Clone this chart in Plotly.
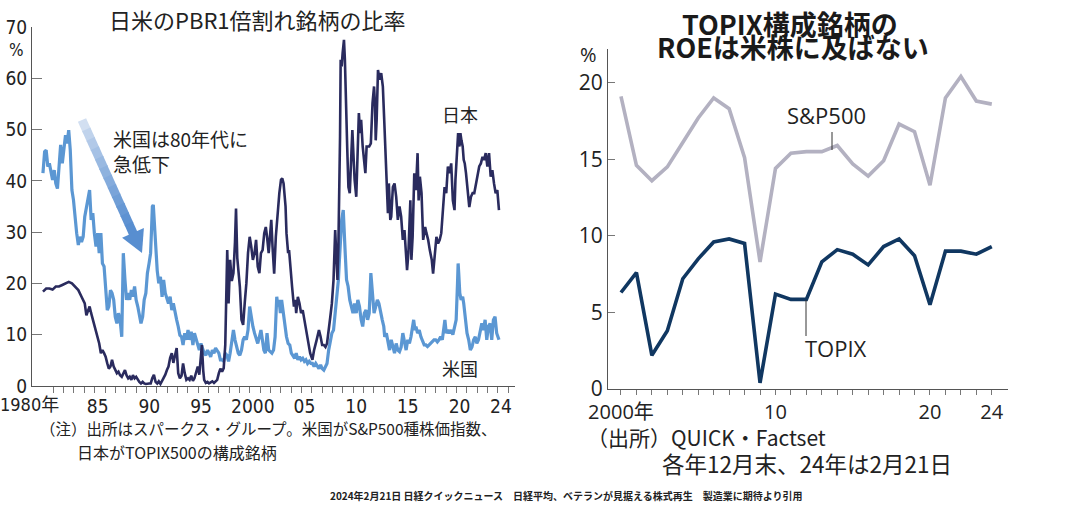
import plotly.graph_objects as go

# ---------------- Left chart: share of stocks with PBR < 1 (%) ----------------
us_years = [
    1980.00, 1980.16, 1980.31, 1980.47, 1980.62, 1980.78, 1980.93, 1981.09, 1981.24, 1981.40,
    1981.55, 1981.71, 1981.87, 1982.02, 1982.18, 1982.33, 1982.49, 1982.64, 1982.80, 1982.95,
    1983.11, 1983.26, 1983.42, 1983.57, 1983.73, 1983.89, 1984.04, 1984.20, 1984.35, 1984.51,
    1984.66, 1984.82, 1984.97, 1985.13, 1985.28, 1985.44, 1985.60, 1985.75, 1985.91, 1986.06,
    1986.22, 1986.37, 1986.53, 1986.68, 1986.84, 1986.99, 1987.15, 1987.30, 1987.46, 1987.62,
    1987.77, 1987.93, 1988.08, 1988.24, 1988.39, 1988.55, 1988.70, 1988.86, 1989.01, 1989.17,
    1989.32, 1989.48, 1989.64, 1989.79, 1989.95, 1990.10, 1990.26, 1990.41, 1990.50, 1990.58,
    1990.67, 1990.79, 1990.89, 1991.05, 1991.20, 1991.36, 1991.52, 1991.67, 1991.83, 1991.99,
    1992.14, 1992.30, 1992.46, 1992.61, 1992.77, 1992.93, 1993.08, 1993.24, 1993.40, 1993.55,
    1993.71, 1993.87, 1994.03, 1994.18, 1994.34, 1994.50, 1994.65, 1994.81, 1994.97, 1995.12,
    1995.28, 1995.44, 1995.59, 1995.75, 1995.91, 1996.06, 1996.22, 1996.38, 1996.54, 1996.69,
    1996.85, 1997.01, 1997.16, 1997.32, 1997.48, 1997.63, 1997.79, 1997.95, 1998.10, 1998.26,
    1998.42, 1998.57, 1998.73, 1998.89, 1999.04, 1999.20, 1999.36, 1999.51, 1999.67, 1999.83,
    1999.99, 2000.14, 2000.30, 2000.46, 2000.61, 2000.77, 2000.93, 2001.08, 2001.22, 2001.36,
    2001.51, 2001.67, 2001.83, 2001.98, 2002.14, 2002.30, 2002.45, 2002.61, 2002.71, 2002.83,
    2002.96, 2003.08, 2003.24, 2003.40, 2003.55, 2003.71, 2003.87, 2004.02, 2004.18, 2004.34,
    2004.49, 2004.65, 2004.81, 2004.96, 2005.12, 2005.28, 2005.43, 2005.59, 2005.75, 2005.91,
    2006.06, 2006.22, 2006.38, 2006.53, 2006.69, 2006.85, 2007.00, 2007.16, 2007.32, 2007.47,
    2007.63, 2007.79, 2007.94, 2008.10, 2008.26, 2008.42, 2008.57, 2008.67, 2008.79, 2008.89,
    2009.04, 2009.14, 2009.23, 2009.36, 2009.51, 2009.67, 2009.83, 2009.98, 2010.14, 2010.30,
    2010.45, 2010.61, 2010.77, 2010.92, 2011.08, 2011.24, 2011.40, 2011.55, 2011.71, 2011.80,
    2011.92, 2012.02, 2012.18, 2012.34, 2012.49, 2012.65, 2012.81, 2012.96, 2013.05, 2013.21,
    2013.36, 2013.52, 2013.68, 2013.84, 2014.00, 2014.16, 2014.32, 2014.48, 2014.64, 2014.80,
    2014.96, 2015.12, 2015.28, 2015.44, 2015.59, 2015.75, 2015.85, 2015.98, 2016.07, 2016.23,
    2016.39, 2016.55, 2016.71, 2016.87, 2017.03, 2017.19, 2017.35, 2017.51, 2017.66, 2017.82,
    2017.98, 2018.14, 2018.30, 2018.46, 2018.62, 2018.78, 2018.87, 2019.00, 2019.16, 2019.32,
    2019.48, 2019.64, 2019.80, 2019.96, 2020.09, 2020.15, 2020.21, 2020.31, 2020.44, 2020.59,
    2020.69, 2020.85, 2021.01, 2021.17, 2021.33, 2021.49, 2021.65, 2021.81, 2021.96, 2022.12,
    2022.28, 2022.44, 2022.60, 2022.76, 2022.92, 2023.08, 2023.24, 2023.40, 2023.56, 2023.72,
    2023.88, 2024.03, 2024.10,
]
us_share = [
    41.5, 45.7, 46.0, 42.8, 43.4, 41.5, 40.2, 42.1, 39.5, 38.5,
    42.8, 47.0, 43.4, 46.7, 48.9, 47.3, 49.9, 46.0, 38.2, 36.3,
    32.4, 29.8, 27.5, 29.1, 28.1, 29.1, 33.0, 34.6, 36.3, 38.2,
    32.4, 33.7, 29.8, 27.2, 29.8, 25.9, 29.8, 23.9, 23.3, 19.4,
    14.8, 15.5, 18.7, 18.1, 16.8, 13.5, 12.2, 14.2, 12.9, 9.6,
    25.9, 20.7, 16.8, 18.1, 16.8, 18.7, 17.4, 19.4, 16.8, 15.5,
    14.2, 12.2, 13.5, 16.8, 18.1, 22.0, 23.9, 25.9, 30.5, 35.0,
    35.3, 31.0, 27.0, 22.5, 20.0, 21.3, 17.4, 20.7, 18.1, 16.8,
    16.1, 17.4, 14.8, 16.1, 14.2, 12.9, 11.6, 9.9, 9.6, 8.0,
    10.3, 9.0, 10.9, 9.0, 10.6, 8.0, 10.3, 9.0, 7.7, 7.0,
    8.3, 7.4, 6.4, 6.0, 7.0, 6.4, 5.7, 7.0, 6.4, 7.4,
    7.0, 6.4, 5.1, 5.1, 4.8, 6.4, 6.0, 4.8, 6.4, 9.0,
    10.9, 9.0, 7.7, 6.4, 6.0, 7.0, 9.0, 9.6, 9.0, 10.9,
    15.5, 13.5, 11.6, 10.3, 9.0, 8.3, 9.6, 10.9, 9.0, 7.0,
    6.4, 10.3, 7.0, 6.7, 6.4, 7.0, 9.6, 17.4, 15.5, 16.8,
    14.2, 16.8, 14.2, 10.9, 9.6, 8.3, 8.0, 6.4, 6.0, 5.4,
    6.4, 5.1, 5.7, 5.1, 5.4, 4.8, 5.1, 4.4, 4.8, 4.4,
    4.4, 3.8, 4.4, 3.8, 3.4, 4.1, 3.4, 3.1, 3.8, 4.4,
    7.0, 9.0, 10.3, 10.9, 14.2, 16.1, 20.7, 24.6, 29.8, 32.4,
    34.3, 31.0, 25.9, 20.7, 19.4, 16.8, 15.5, 14.2, 16.1, 14.2,
    16.8, 15.5, 12.9, 11.6, 14.2, 14.8, 12.9, 14.2, 22.0, 19.4,
    15.5, 14.2, 15.5, 16.8, 16.1, 14.8, 12.9, 11.6, 9.6, 10.3,
    8.3, 7.0, 9.0, 7.4, 6.4, 8.3, 7.0, 6.7, 7.6, 10.3,
    8.3, 7.0, 9.0, 8.3, 9.6, 11.6, 12.9, 10.9, 11.6, 10.3,
    10.9, 9.6, 8.6, 8.0, 8.0, 7.7, 8.0, 8.3, 8.6, 9.0,
    9.0, 8.6, 9.0, 9.6, 9.0, 10.9, 12.9, 10.3, 10.9, 10.3,
    10.9, 10.0, 11.6, 12.9, 20.0, 23.9, 21.9, 18.1, 16.8, 17.4,
    16.1, 12.9, 10.3, 9.0, 7.0, 7.6, 9.0, 9.6, 8.3, 9.0,
    10.3, 12.2, 10.9, 12.9, 9.0, 11.6, 12.2, 9.0, 12.9, 13.5,
    10.3, 9.0, 9.0,
]

jp_years = [
    1980.00, 1980.31, 1980.62, 1980.93, 1981.24, 1981.55, 1981.87, 1982.18, 1982.49, 1982.80,
    1983.11, 1983.42, 1983.73, 1984.04, 1984.20, 1984.35, 1984.51, 1984.66, 1984.82, 1984.97,
    1985.13, 1985.28, 1985.44, 1985.60, 1985.75, 1985.91, 1986.06, 1986.22, 1986.37, 1986.53,
    1986.68, 1986.84, 1986.99, 1987.15, 1987.30, 1987.46, 1987.62, 1987.77, 1987.93, 1988.08,
    1988.24, 1988.39, 1988.55, 1988.70, 1988.86, 1989.01, 1989.17, 1989.32, 1989.48, 1989.64,
    1989.79, 1989.95, 1990.26, 1990.42, 1990.57, 1990.73, 1990.89, 1991.05, 1991.20, 1991.36,
    1991.52, 1991.67, 1991.83, 1991.99, 1992.14, 1992.30, 1992.46, 1992.61, 1992.77, 1992.93,
    1993.08, 1993.24, 1993.40, 1993.55, 1993.71, 1993.87, 1994.03, 1994.18, 1994.34, 1994.50,
    1994.65, 1994.81, 1994.97, 1995.12, 1995.28, 1995.37, 1995.50, 1995.59, 1995.75, 1995.91,
    1996.06, 1996.22, 1996.38, 1996.54, 1996.69, 1996.85, 1997.01, 1997.16, 1997.32, 1997.48,
    1997.63, 1997.73, 1997.82, 1997.95, 1998.10, 1998.26, 1998.42, 1998.57, 1998.67, 1998.79,
    1998.89, 1999.04, 1999.20, 1999.36, 1999.51, 1999.67, 1999.83, 1999.99, 2000.14, 2000.30,
    2000.46, 2000.61, 2000.77, 2000.93, 2001.08, 2001.24, 2001.40, 2001.55, 2001.67, 2001.83,
    2001.98, 2002.08, 2002.20, 2002.36, 2002.52, 2002.61, 2002.77, 2002.86, 2003.02, 2003.14,
    2003.27, 2003.46, 2003.55, 2003.71, 2003.80, 2003.96, 2004.09, 2004.27, 2004.40, 2004.49,
    2004.65, 2004.81, 2004.96, 2005.12, 2005.28, 2005.53, 2005.65, 2005.84, 2006.06, 2006.22,
    2006.47, 2006.69, 2006.85, 2007.00, 2007.16, 2007.32, 2007.47, 2007.63, 2007.79, 2007.94,
    2008.10, 2008.26, 2008.35, 2008.48, 2008.57, 2008.67, 2008.73, 2008.79, 2008.89, 2008.98,
    2009.11, 2009.20, 2009.29, 2009.42, 2009.54, 2009.67, 2009.83, 2009.92, 2010.05, 2010.14,
    2010.30, 2010.42, 2010.55, 2010.67, 2010.77, 2010.92, 2011.18, 2011.30, 2011.55, 2011.71,
    2011.87, 2012.02, 2012.12, 2012.18, 2012.27, 2012.40, 2012.56, 2012.71, 2012.87, 2013.00,
    2013.10, 2013.24, 2013.36, 2013.45, 2013.59, 2013.68, 2013.84, 2014.00, 2014.16, 2014.32,
    2014.48, 2014.64, 2014.80, 2014.96, 2015.12, 2015.21, 2015.34, 2015.44, 2015.53, 2015.63,
    2015.75, 2015.91, 2016.07, 2016.23, 2016.33, 2016.45, 2016.61, 2016.77, 2016.96, 2017.09,
    2017.25, 2017.41, 2017.60, 2017.73, 2017.89, 2018.05, 2018.21, 2018.37, 2018.52, 2018.68,
    2018.84, 2019.00, 2019.16, 2019.32, 2019.48, 2019.64, 2019.80, 2019.89, 2020.05, 2020.15,
    2020.28, 2020.37, 2020.47, 2020.59, 2020.69, 2020.79, 2020.91, 2021.07, 2021.23, 2021.39,
    2021.55, 2021.71, 2021.87, 2022.03, 2022.19, 2022.35, 2022.51, 2022.66, 2022.82, 2022.98,
    2023.14, 2023.30, 2023.46, 2023.62, 2023.78, 2023.94, 2024.10,
]
jp_share = [
    18.4, 19.0, 19.0, 18.8, 19.4, 19.4, 19.7, 20.0, 20.3, 20.0,
    19.4, 18.7, 17.4, 16.1, 13.8, 14.8, 15.5, 14.2, 12.9, 12.2,
    10.9, 9.6, 8.3, 6.4, 7.0, 6.4, 5.7, 4.4, 3.4, 3.8,
    5.1, 3.8, 3.1, 2.5, 2.8, 2.1, 1.8, 2.5, 3.1, 2.1,
    1.5, 1.8, 1.2, 2.1, 1.5, 1.8, 1.2, 0.8, 0.5, 0.8,
    0.5, 0.4, 0.5, 0.5, 1.5, 2.2, 0.8, 0.5, 0.9, 0.4,
    1.0, 1.5, 2.2, 3.1, 3.8, 5.5, 6.4, 4.5, 6.0, 7.4,
    2.5, 1.5, 2.0, 4.4, 2.5, 1.2, 1.5, 1.2, 2.0, 1.0,
    1.5, 2.5, 3.8, 2.2, 6.0, 8.0, 3.0, 1.2, 0.6, 0.8,
    0.5, 0.7, 0.9, 0.6, 1.0, 1.2, 2.5, 3.4, 2.8, 3.5,
    8.0, 20.0, 26.5, 16.1, 24.6, 20.5, 22.0, 28.0, 34.6, 25.0,
    22.6, 19.4, 12.9, 11.9, 16.1, 20.0, 25.9, 29.1, 27.2, 24.6,
    25.9, 28.5, 23.3, 22.0, 25.9, 26.5, 29.8, 31.0, 29.1, 25.9,
    29.8, 32.4, 27.2, 21.9, 29.1, 31.7, 35.0, 37.6, 40.2, 40.5,
    39.5, 35.0, 29.8, 25.9, 26.5, 21.3, 19.4, 15.5, 16.8, 14.2,
    17.4, 16.1, 14.2, 14.8, 12.9, 10.3, 9.0, 6.4, 5.1, 7.0,
    9.0, 10.9, 9.6, 8.0, 8.0, 7.6, 8.3, 11.6, 13.5, 16.1,
    20.7, 30.4, 25.9, 20.7, 27.2, 38.8, 48.6, 63.6, 62.3, 64.9,
    67.5, 63.6, 55.1, 46.7, 38.8, 37.6, 45.4, 49.9, 44.1, 40.2,
    36.9, 46.7, 53.2, 49.3, 51.9, 46.7, 41.5, 46.7, 46.7, 47.3,
    55.1, 58.4, 54.4, 47.9, 51.9, 61.6, 59.7, 61.0, 58.4, 52.0,
    47.0, 40.1, 33.7, 39.5, 32.4, 33.0, 38.8, 39.5, 36.9, 32.4,
    35.0, 33.0, 28.5, 30.4, 25.9, 22.6, 25.9, 31.0, 36.2, 24.6,
    29.1, 41.5, 38.2, 45.4, 36.2, 40.8, 37.6, 28.5, 31.0, 29.8,
    28.5, 26.5, 24.6, 21.9, 25.9, 29.1, 27.8, 28.5, 29.8, 35.0,
    38.8, 37.6, 42.8, 41.5, 43.4, 36.2, 34.3, 40.2, 45.4, 49.3,
    46.7, 49.3, 47.9, 46.7, 44.1, 43.4, 41.5, 38.2, 34.9, 36.9,
    37.6, 37.6, 39.5, 41.5, 42.8, 43.4, 44.7, 44.1, 45.4, 42.8,
    45.4, 40.8, 42.1, 39.5, 37.6, 38.2, 34.3,
]

left_tick_years = [1985, 1990, 1995, 2000, 2005, 2010, 2015, 2020, 2024]
left_tick_text = ["85", "90", "95", "2000", "05", "10", "15", "20", "24"]
left_y_ticks = [0, 10, 20, 30, 40, 50, 60, 70]

# ---------------- Right chart: ROE (%) ----------------
roe_years = list(range(2000, 2025))
sp500_roe = [19.1, 14.6, 13.6, 14.5, 16.1, 17.7, 19.0, 18.3, 15.1, 8.3,
             14.4, 15.4, 15.5, 15.5, 15.9, 14.7, 13.9, 14.9, 17.3, 16.8,
             13.3, 19.0, 20.4, 18.8, 18.6]
topix_roe = [6.3, 7.6, 2.2, 3.8, 7.2, 8.5, 9.6, 9.8, 9.5, 0.4,
             6.2, 5.85, 5.85, 8.3, 9.1, 8.8, 8.1, 9.3, 9.8, 8.7,
             5.5, 9.0, 9.0, 8.8, 9.3]
right_tick_years = [2000, 2010, 2020, 2024]
right_tick_text = ["2000年", "10", "20", "24"]
right_y_ticks = [0, 5, 10, 15, 20]

# ---------------- styling ----------------
W, H = 1073, 528
US_COLOR = "#5b97d3"
JP_COLOR = "#2a2b5e"
SP_COLOR = "#b3b1c1"
TPX_COLOR = "#103761"
AXIS_COLOR = "#555555"
TXT = "#222222"
JP_FONT = "Noto Sans CJK JP"
NARROW = "Liberation Sans Narrow, DejaVu Sans Condensed, Noto Sans CJK JP, sans-serif"
WIDE = "Open Sans, Noto Sans CJK JP, sans-serif"


def px(x):
    return x / W


def py(y):
    return 1 - y / H


fig = go.Figure()
fig.add_trace(go.Scatter(x=us_years, y=us_share, mode="lines", xaxis="x", yaxis="y",
                         line=dict(color=US_COLOR, width=3.2), hoverinfo="skip"))
fig.add_trace(go.Scatter(x=jp_years, y=jp_share, mode="lines", xaxis="x", yaxis="y",
                         line=dict(color=JP_COLOR, width=2.6), hoverinfo="skip"))
fig.add_trace(go.Scatter(x=roe_years, y=sp500_roe, mode="lines", xaxis="x2", yaxis="y2",
                         line=dict(color=SP_COLOR, width=3.6), hoverinfo="skip"))
fig.add_trace(go.Scatter(x=roe_years, y=topix_roe, mode="lines", xaxis="x2", yaxis="y2",
                         line=dict(color=TPX_COLOR, width=3.6), hoverinfo="skip"))

fig.update_layout(
    width=W, height=H, autosize=False,
    margin=dict(l=0, r=0, t=0, b=0, pad=0, autoexpand=False),
    paper_bgcolor="white", plot_bgcolor="white",
    showlegend=False, hovermode=False,
    xaxis=dict(
        domain=[px(32), px(515)], range=[1978.94, 2025.65], anchor="y", automargin=False,
        showline=True, linecolor=AXIS_COLOR, linewidth=1, showgrid=False, zeroline=False,
        tickmode="array", tickvals=left_tick_years, ticktext=left_tick_text,
        ticks="outside", ticklen=6, tickcolor="#777777", tickwidth=1,
        ticklabelshift=3, ticklabelstandoff=-3,
        minor=dict(tickmode="array", tickvals=list(range(1981, 2026)), ticks="outside",
                   ticklen=6, tickcolor="#777777", tickwidth=1, showgrid=False),
        tickfont=dict(family=NARROW, size=19, color=TXT),
    ),
    yaxis=dict(
        domain=[py(386), py(27)], range=[0, 70], anchor="x", automargin=False,
        showline=True, linecolor=AXIS_COLOR, linewidth=1, showgrid=False, zeroline=False,
        tickmode="array", tickvals=left_y_ticks,
        ticks="inside", ticklen=10, tickcolor="#777777", tickwidth=1,
        tickfont=dict(family=NARROW, size=19, color=TXT),
    ),
    xaxis2=dict(
        domain=[px(608), px(1008)], range=[1999.16, 2025.05], anchor="y2", automargin=False,
        showline=True, linecolor=AXIS_COLOR, linewidth=1, showgrid=False, zeroline=False,
        tickmode="array", tickvals=right_tick_years, ticktext=right_tick_text,
        ticks="outside", ticklen=5, tickcolor="#777777", tickwidth=1,
        minor=dict(tickmode="array", tickvals=list(range(2001, 2025)), ticks="outside",
                   ticklen=5, tickcolor="#777777", tickwidth=1, showgrid=False),
        tickfont=dict(family=WIDE, size=20, color=TXT),
    ),
    yaxis2=dict(
        domain=[py(389), py(49)], range=[0, 22.2], anchor="x2", automargin=False,
        showline=True, linecolor=AXIS_COLOR, linewidth=1, showgrid=False, zeroline=False,
        tickmode="array", tickvals=right_y_ticks,
        ticks="inside", ticklen=7, tickcolor="#777777", tickwidth=1,
        tickfont=dict(family=WIDE, size=21, color=TXT),
    ),
)


def note(text, x, y, size, xanchor="left", family=JP_FONT, weight="normal", color=TXT):
    fig.add_annotation(text=text, x=px(x), y=py(y), xref="paper", yref="paper",
                       xanchor=xanchor, yanchor="middle", showarrow=False,
                       font=dict(family=family, size=size, color=color, weight=weight))


# left chart texts
note("日米のPBR1倍割れ銘柄の比率", 257, 19, 22, xanchor="center")
note("%", 16, 50, 17, xanchor="center", family=NARROW)
note("1980年", 29, 404, 18, xanchor="center", family=NARROW)
note("米国は80年代に", 111, 138, 19)
note("急低下", 111, 164, 19)
note("日本", 460, 114, 18, xanchor="center")
note("米国", 460, 368, 18, xanchor="center")
note("（注）出所はスパークス・グループ。米国がS&P500種株価指数、", 38, 428, 15.5)
note("日本がTOPIX500の構成銘柄", 75, 452, 16)

# right chart texts
note("TOPIX構成銘柄の", 790, 23, 27, xanchor="center", weight="bold", color="#1a1a1a")
note("ROEは米株に及ばない", 793, 47, 27, xanchor="center", weight="bold", color="#1a1a1a")
note("%", 588, 55, 20, xanchor="center", family=WIDE)
note("S&P500", 826, 115, 22, xanchor="center", family=WIDE)
note("TOPIX", 836, 348, 22, xanchor="center", family=WIDE)
note("（出所）QUICK・Factset", 585, 437, 21)
note("各年12月末、24年は2月21日", 660, 463, 22.5)

# source credit
note("2024年2月21日 日経クイックニュース　日経平均、ベテランが見据える株式再生　製造業に期待より引用",
     566, 495, 10, xanchor="center", weight="bold")

# leader lines (right chart)
for (x0, y0, x1, y1) in [(832, 132, 832, 150), (806, 300, 806, 336)]:
    fig.add_shape(type="line", xref="paper", yref="paper",
                  x0=px(x0), y0=py(y0), x1=px(x1), y1=py(y1),
                  line=dict(color="#333333", width=1))

# gradient arrow (left chart)
S = (82.0, 120.0)
B = (133.0, 232.9)
T = (142.0, 253.0)
c0 = (226, 233, 245)
c1 = (88, 142, 208)
n_seg = 12
for i in range(n_seg):
    t0, t1 = i / n_seg, (i + 1) / n_seg
    tm = min(1.0, ((i + 0.5) / n_seg) ** 0.7 * 1.05)
    col = tuple(int(round(c0[k] + (c1[k] - c0[k]) * tm)) for k in range(3))
    xa = S[0] + (B[0] - S[0]) * t0
    ya = S[1] + (B[1] - S[1]) * t0
    xb = S[0] + (B[0] - S[0]) * (t1 + 0.01)
    yb = S[1] + (B[1] - S[1]) * (t1 + 0.01)
    fig.add_shape(type="line", xref="paper", yref="paper",
                  x0=px(xa), y0=py(ya), x1=px(xb), y1=py(yb),
                  line=dict(color="rgb(%d,%d,%d)" % col, width=9))
head = [(143.9, 228.0), T, (122.1, 237.8)]
path = "M %f,%f L %f,%f L %f,%f Z" % (px(head[0][0]), py(head[0][1]), px(head[1][0]), py(head[1][1]),
                                      px(head[2][0]), py(head[2][1]))
fig.add_shape(type="path", xref="paper", yref="paper", path=path,
              fillcolor="rgb(%d,%d,%d)" % c1, line=dict(width=0))

# the page's default body margin would shift the 1073x528 figure; remove it
fig.write_html("out.html", config={"displayModeBar": False, "staticPlot": True},
               post_script="document.body.style.margin='0px';")
